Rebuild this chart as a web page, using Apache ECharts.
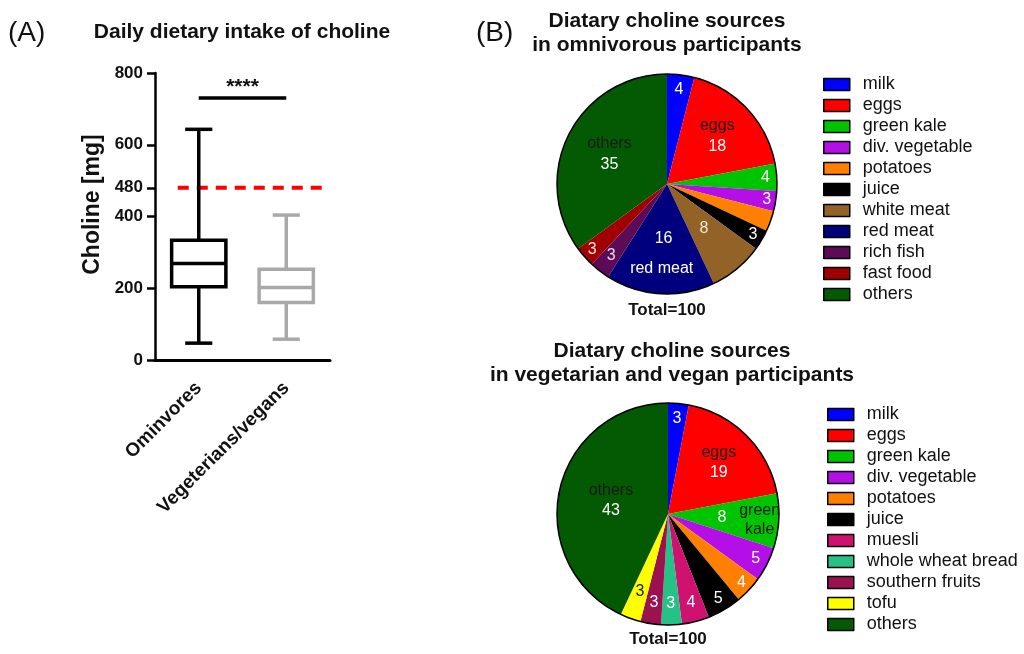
<!DOCTYPE html>
<html><head><meta charset="utf-8">
<script src="https://cdn.jsdelivr.net/npm/echarts@6/dist/echarts.min.js"></script>
<style>html,body{margin:0;padding:0;background:#fff}#c{width:1024px;height:654px}</style>
</head><body><div id="c"></div>
<script>
// ---------- data ----------
const groups = ['Ominvores', 'Vegeterians/vegans'];
const boxMin = [47, 58];
const boxQ1 = [204, 160];
const boxMedian = [269, 202];
const boxQ3 = [334, 253];
const boxMax = [643, 404];
const yTicks = [0, 200, 400, 480, 600, 800];
const recommended = 480;
const recLineFrom = -0.24;
const recLineTo = 1.44;
const sigLevel = 730;
const sigText = '****';

const omniNames = ['milk','eggs','green kale','div. vegetable','potatoes','juice','white meat','red meat','rich fish','fast food','others'];
const omniValues = [4,18,4,3,3,3,8,16,3,3,35];
const vegNames = ['milk','eggs','green kale','div. vegetable','potatoes','juice','muesli','whole wheat bread','southern fruits','tofu','others'];
const vegValues = [3,19,8,5,4,5,4,3,3,3,43];
const totalText = 'Total=100';

// ---------- styles ----------
const FONT = '"Liberation Sans", Arial, sans-serif';
const colorMap = {
  'milk':'#0000ff','eggs':'#ff0000','green kale':'#00c400','div. vegetable':'#b30fe6',
  'potatoes':'#ff8000','juice':'#000000','white meat':'#926227','red meat':'#00007f',
  'rich fish':'#5c0c57','fast food':'#a00000','others':'#035a03',
  'muesli':'#cf1270','whole wheat bread':'#25c186','southern fruits':'#9c1150','tofu':'#ffff00'
};
const boxColors = ['#000000', '#a9a9a9'];
const DARK = '#1a1a1a', LIGHT = '#ffffff';
const PIE_FS = 16;

// label placement: [name, radial level (fraction of R), content, color]
const omniLabelSpec = [
  ['milk',0.84,'v',LIGHT],
  ['eggs',0.6,'nv',null],
  ['green kale',0.87,'v',LIGHT],
  ['div. vegetable',0.89,'v',LIGHT],
  ['potatoes',0.88,'v',LIGHT],
  ['juice',0.88,'v',LIGHT],
  ['white meat',0.5,'v','#f3e6d0'],
  ['white meat',0.8,'n2',DARK],
  ['red meat',0.47,'v',LIGHT],
  ['red meat',0.74,'n',LIGHT],
  ['rich fish',0.8,'v','#f0d8f0'],
  ['fast food',0.88,'v','#ffe0e0'],
  ['others',0.56,'nv',null]
];
const vegLabelSpec = [
  ['milk',0.84,'v',LIGHT],
  ['eggs',0.62,'nv',null],
  ['green kale',0.46,'v',LIGHT],
  ['green kale',0.8,'n2',DARK],
  ['div. vegetable',0.86,'v',LIGHT],
  ['potatoes',0.88,'v',LIGHT],
  ['juice',0.86,'v',LIGHT],
  ['muesli',0.8,'v',LIGHT],
  ['whole wheat bread',0.78,'v',LIGHT],
  ['southern fruits',0.78,'v',LIGHT],
  ['tofu',0.72,'v',DARK],
  ['others',0.5,'nv',null]
];

const omniCenter = [667, 184], omniR = 110;
const vegCenter = [668, 514], vegR = 111;

function pieMain(names, values, center, R) {
  return {
    type: 'pie', center: center, radius: [0, R], startAngle: 90, clockwise: true,
    silent: true, label: {show: false}, labelLine: {show: false},
    itemStyle: {borderWidth: 0},
    data: names.map((n, i) => ({name: n, value: values[i], itemStyle: {color: colorMap[n]}}))
  };
}
function pieOutline(center, R) {
  return {
    type: 'pie', center: center, radius: [0, R], silent: true, startAngle: 90,
    label: {show: false}, labelLine: {show: false},
    itemStyle: {color: 'rgba(0,0,0,0)', borderColor: '#000', borderWidth: 1.5},
    data: [{value: 1, name: '__outline'}]
  };
}
function pieLabels(names, values, center, R, spec) {
  return spec.map(s => {
    const [target, L, kind, col] = s;
    const r0 = L >= 0.5 ? (2 * L - 1) * R : 0;
    const r1 = L >= 0.5 ? R : 2 * L * R;
    return {
      type: 'pie', center: center, radius: [r0, r1], startAngle: 90, clockwise: true,
      silent: true, labelLine: {show: false},
      itemStyle: {color: 'rgba(0,0,0,0)', borderWidth: 0},
      label: {show: false},
      data: names.map((n, i) => {
        const d = {name: n, value: values[i]};
        if (n === target) {
          d.label = {
            show: true, position: 'inside', fontFamily: FONT, fontSize: PIE_FS,
            lineHeight: 19, align: 'center',
            formatter: p => {
              if (kind === 'v') return '{v|' + p.value + '}';
              if (kind === 'n') return '{n|' + p.name + '}';
              if (kind === 'n2') return p.name.split(' ').map(w => '{n|' + w + '}').join('\n');
              return '{n|' + p.name + '}\n{w|' + p.value + '}';
            },
            rich: {
              v: {color: col, fontSize: PIE_FS, fontFamily: FONT, lineHeight: 19},
              n: {color: col || DARK, fontSize: PIE_FS, fontFamily: FONT, lineHeight: 19},
              w: {color: LIGHT, fontSize: PIE_FS, fontFamily: FONT, lineHeight: 22}
            }
          };
        }
        return d;
      })
    };
  });
}

const boxData = groups.map((g, i) => [i, boxMin[i], boxQ1[i], boxMedian[i], boxQ3[i], boxMax[i]]);

const legendText = {fontFamily: FONT, fontSize: 18, color: '#111', lineHeight: 21, padding: [0, 0, 0, 8]};

const option = {
  backgroundColor: '#fff',
  animation: false,
  title: [
    {text: '(A)', left: 3, top: 14, textStyle: {fontFamily: FONT, fontSize: 28, fontWeight: 'normal', color: '#111'}},
    {text: 'Daily dietary intake of choline', left: 237, top: 17, textAlign: 'center', textStyle: {fontFamily: FONT, fontSize: 21, fontWeight: 'bold', color: '#111'}},
    {text: '(B)', left: 471, top: 14, textStyle: {fontFamily: FONT, fontSize: 28, fontWeight: 'normal', color: '#111'}},
    {text: 'Diatary choline sources\nin omnivorous participants', left: 662, top: 4, textAlign: 'center', textStyle: {fontFamily: FONT, fontSize: 21, fontWeight: 'bold', lineHeight: 24, color: '#111'}},
    {text: totalText, left: 662, top: 297, textAlign: 'center', textStyle: {fontFamily: FONT, fontSize: 17, fontWeight: 'bold', color: '#111'}},
    {text: 'Diatary choline sources\nin vegetarian and vegan participants', left: 667, top: 334, textAlign: 'center', textStyle: {fontFamily: FONT, fontSize: 21, fontWeight: 'bold', lineHeight: 24, color: '#111'}},
    {text: totalText, left: 663, top: 626, textAlign: 'center', textStyle: {fontFamily: FONT, fontSize: 17, fontWeight: 'bold', color: '#111'}}
  ],
  legend: [
    {
      orient: 'vertical', left: 818, top: 69, icon: 'rect', itemWidth: 26, itemHeight: 12, itemGap: 0,
      data: omniNames, selectedMode: false,
      itemStyle: {borderColor: '#000', borderWidth: 1.5},
      textStyle: legendText
    },
    {
      orient: 'vertical', left: 822, top: 399, icon: 'rect', itemWidth: 26, itemHeight: 12, itemGap: 0,
      data: vegNames, selectedMode: false,
      itemStyle: {borderColor: '#000', borderWidth: 1.5},
      textStyle: legendText
    }
  ],
  grid: {left: 155, width: 175, top: 73, bottom: 294, containLabel: false},
  xAxis: [
    {
      type: 'category', data: groups, boundaryGap: true,
      axisLine: {lineStyle: {color: '#000', width: 3}},
      axisTick: {alignWithLabel: true, length: 7, lineStyle: {width: 3, color: '#000'}},
      axisLabel: {rotate: 45, fontFamily: FONT, fontSize: 19, fontWeight: 'bold', color: '#111', margin: 25, interval: 0},
      splitLine: {show: false}
    },
    {type: 'value', min: -0.5, max: 1.5, show: false}
  ],
  yAxis: {
    type: 'value', min: 0, max: 800,
    name: 'Choline [mg]', nameLocation: 'middle', nameGap: 51,
    nameTextStyle: {fontFamily: FONT, fontSize: 23, fontWeight: 'bold', color: '#111', padding: [0, 0, 0, 24]},
    axisLine: {show: true, onZero: false, lineStyle: {color: '#000', width: 2.5}},
    axisTick: {show: true, length: 8, lineStyle: {width: 2.5, color: '#000'}, customValues: yTicks},
    axisLabel: {fontFamily: FONT, fontSize: 17, fontWeight: 'bold', color: '#111', margin: 12, customValues: yTicks},
    splitLine: {show: false}
  },
  series: [
    {
      type: 'custom', xAxisIndex: 0, yAxisIndex: 0,
      encode: {x: 0, y: [1, 2, 3, 4, 5]},
      data: boxData,
      renderItem: function (params, api) {
        const c = api.value(0);
        const pMin = api.coord([c, api.value(1)]);
        const pQ1 = api.coord([c, api.value(2)]);
        const pMed = api.coord([c, api.value(3)]);
        const pQ3 = api.coord([c, api.value(4)]);
        const pMax = api.coord([c, api.value(5)]);
        const bw = api.size([1, 0])[0] * 0.62;
        const cw = bw / 2;
        const x = pMin[0];
        const col = boxColors[params.dataIndex];
        const st = {stroke: col, lineWidth: 3.5, fill: null};
        return {
          type: 'group', children: [
            {type: 'line', shape: {x1: x, y1: pQ3[1], x2: x, y2: pMax[1]}, style: st},
            {type: 'line', shape: {x1: x, y1: pQ1[1], x2: x, y2: pMin[1]}, style: st},
            {type: 'line', shape: {x1: x - cw / 2, y1: pMax[1], x2: x + cw / 2, y2: pMax[1]}, style: st},
            {type: 'line', shape: {x1: x - cw / 2, y1: pMin[1], x2: x + cw / 2, y2: pMin[1]}, style: st},
            {type: 'rect', shape: {x: x - bw / 2, y: pQ3[1], width: bw, height: pQ1[1] - pQ3[1]}, style: {stroke: col, lineWidth: 3.5, fill: '#fff'}},
            {type: 'line', shape: {x1: x - bw / 2, y1: pMed[1], x2: x + bw / 2, y2: pMed[1]}, style: st}
          ]
        };
      }
    },
    {
      type: 'line', xAxisIndex: 1, yAxisIndex: 0, symbol: 'none', silent: true,
      data: [[recLineFrom, recommended], [recLineTo, recommended]],
      lineStyle: {color: '#ff0000', width: 4, type: [11, 8]},
      z: 1
    },
    {
      type: 'line', xAxisIndex: 0, yAxisIndex: 0, data: [], silent: true,
      markLine: {
        symbol: 'none', silent: true, animation: false,
        data: [[{coord: [0, sigLevel]}, {coord: [1, sigLevel]}]],
        lineStyle: {color: '#000', width: 3.5, type: 'solid'},
        label: {show: true, position: 'middle', formatter: sigText, fontFamily: FONT, fontSize: 21, fontWeight: 'bold', color: '#111', distance: 0}
      }
    },
    pieMain(omniNames, omniValues, omniCenter, omniR),
    pieMain(vegNames, vegValues, vegCenter, vegR),
    pieOutline(omniCenter, omniR),
    pieOutline(vegCenter, vegR)
  ].concat(pieLabels(omniNames, omniValues, omniCenter, omniR, omniLabelSpec))
   .concat(pieLabels(vegNames, vegValues, vegCenter, vegR, vegLabelSpec))
};

const chart = echarts.init(document.getElementById('c'), null, {renderer: 'canvas'});
chart.setOption(option);
</script>
</body></html>
